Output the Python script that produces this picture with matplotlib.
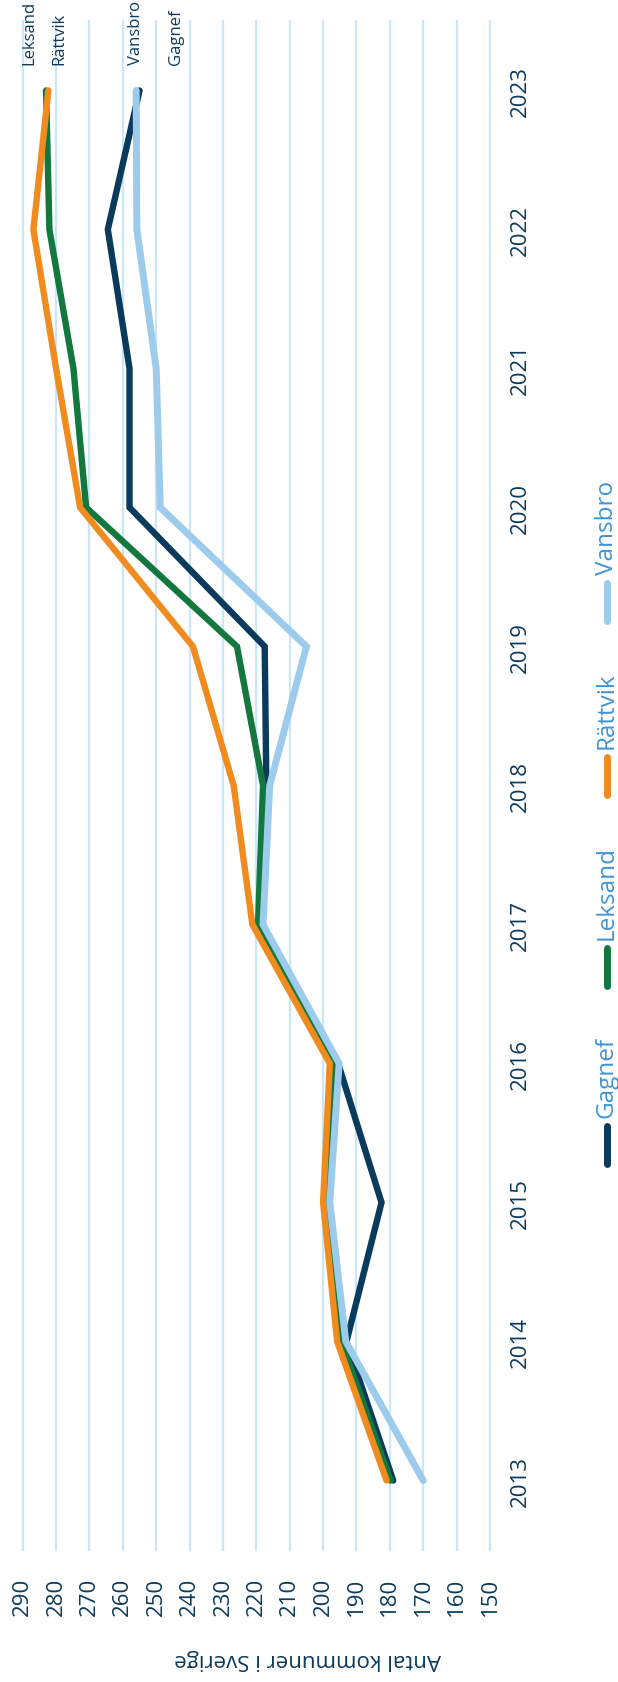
import matplotlib
matplotlib.use("Agg")
import matplotlib.pyplot as plt
from matplotlib.lines import Line2D

plt.rcParams['font.family'] = ['Open Sans', 'DejaVu Sans']

# ---------------- data ----------------
years = [2013, 2014, 2015, 2016, 2017, 2018, 2019, 2020, 2021, 2022, 2023]
gagnef = [179, 193, 182.5, 195.5, 218.5, 217, 217.5, 258, 258, 264.5, 255]
leksand = [179.8, 194.5, 198.8, 196.3, 219.5, 218, 225.8, 271, 274.8, 282, 283]
rattvik = [181, 195.8, 200, 198, 221.2, 226.8, 239, 272.8, 280, 286.8, 282.3]
vansbro = [170, 193.2, 198, 195.2, 218, 216, 205, 248.8, 250, 255.8, 256]
series_names = ["Gagnef", "Leksand", "Rättvik", "Vansbro"]
value_ticks = [150, 160, 170, 180, 190, 200, 210, 220, 230, 240, 250, 260, 270, 280, 290]
axis_title = "Antal kommuner i Sverige"

# end-label anchor values (de-overlapped positions)
end_label_pos = {"Leksand": 288, "Rättvik": 279, "Vansbro": 256, "Gagnef": 244}

# ---------------- style ----------------
NAVY = "#0b3a5c"
colors = {"Gagnef": "#0a3a5c", "Leksand": "#12783d", "Rättvik": "#f08c1f", "Vansbro": "#9ccbeb"}
LEG_TXT = "#3f94d6"
GRID = "#c9e7f8"

W, H = 618, 1683
fig = plt.figure(figsize=(W / 100, H / 100), dpi=100)


def fx(px):
    return px / W


def fy(py):
    return 1 - py / H


ax = fig.add_axes([fx(22.7), fy(1551), fx(490) - fx(22.7), fy(22) - fy(1551)])
ax.set_xlim(290, 150)
ax.set_ylim(2012.5, 2023.5)
for s in ax.spines.values():
    s.set_visible(False)

ax.set_xticks(value_ticks)
ax.set_xticklabels([str(v) for v in value_ticks])
ax.grid(axis='x', color=GRID, lw=1.6)
ax.grid(axis='y', visible=False)
ax.set_axisbelow(True)
for gl in ax.get_xgridlines():
    gl.set_clip_on(False)
ax.tick_params(axis='x', length=0, pad=19, labelrotation=90, labelsize=16, labelcolor=NAVY)

ax.set_yticks(years)
ax.set_yticklabels([str(y) for y in years])
ax.yaxis.tick_right()
ax.tick_params(axis='y', length=0, pad=14, labelrotation=90, labelsize=16, labelcolor=NAVY)
for lab in ax.get_yticklabels():
    lab.set_va('center')
for lab in ax.get_xticklabels():
    lab.set_ha('center')

data = {"Gagnef": gagnef, "Leksand": leksand, "Rättvik": rattvik, "Vansbro": vansbro}
for name in series_names:
    lw = 5.0 if name == "Vansbro" else 4.6
    ax.plot(data[name], years, color=colors[name], lw=lw,
            solid_capstyle='round', solid_joinstyle='miter', zorder=3)

# end labels
for name in series_names:
    ax.text(end_label_pos[name], 2023.19, name, rotation=90, ha='center', va='bottom',
            fontsize=12, color=NAVY, clip_on=False)

# axis title (rotated along with the whole chart)
fig.text(fx(308), fy(1660), axis_title, rotation=180, ha='center', va='center',
         fontsize=16, color=NAVY)

# manual rotated legend
fig.canvas.draw()
renderer = fig.canvas.get_renderer()
y = 1168.0
line_len = 44
gap = 6
spacing = 47
legx = 607
for name in series_names:
    fig.add_artist(Line2D([fx(legx), fx(legx)], [fy(y - 3), fy(y - line_len + 3)],
                          color=colors[name], lw=5, solid_capstyle='round'))
    t = fig.text(fx(legx), fy(y - line_len - gap), name, rotation=90, ha='center',
                 va='bottom', fontsize=17.5, color=LEG_TXT)
    bb = t.get_window_extent(renderer)
    y = y - line_len - gap - bb.height - spacing

fig.savefig("out.png", dpi=100)
